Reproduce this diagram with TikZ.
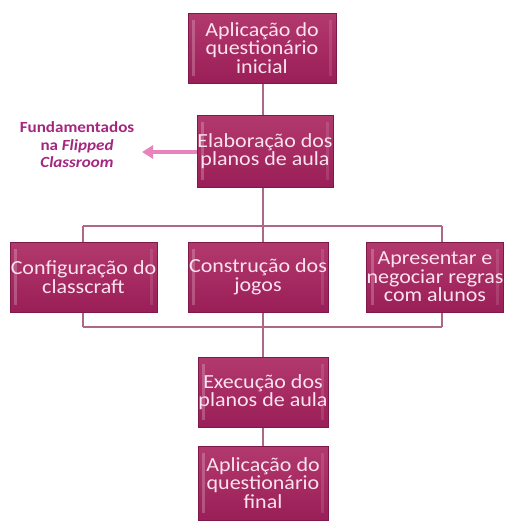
\documentclass[tikz,border=0pt]{standalone}
\usepackage{fontspec}
\setmainfont{Carlito}[FakeStretch=1.1]
\usetikzlibrary{arrows.meta,backgrounds,positioning,calc}
\definecolor{boxtop}{HTML}{B2396E}
\definecolor{boxbot}{HTML}{9A1E57}
\definecolor{boxline}{HTML}{7E1A49}
\definecolor{boxtext}{HTML}{FBE3EE}
\definecolor{linkcol}{HTML}{AE6886}
\definecolor{notecol}{HTML}{A3267F}
\definecolor{arrowcol}{HTML}{E884BC}
\tikzset{
    every picture/.style={line width=0.75pt},
    stage/.style={draw=boxline, line width=1pt, top color=boxtop, bottom color=boxbot,
        text=boxtext, align=center, inner sep=0pt,
        font=\fontsize{20}{18.5}\selectfont,
        path picture={
            \fill[white, opacity=0.22]
                ([xshift=4pt,yshift=-7pt]path picture bounding box.north west)
                rectangle ([xshift=7pt,yshift=7pt]path picture bounding box.south west);
            \fill[white, opacity=0.12]
                ([xshift=-7pt,yshift=-7pt]path picture bounding box.north east)
                rectangle ([xshift=-4pt,yshift=7pt]path picture bounding box.south east);
        }},
    link/.style={draw=linkcol, line width=2pt},
}

\begin{document}
\begin{tikzpicture}[x=1pt,y=-1pt]
    \useasboundingbox (0,0) rectangle (509,522);

    % main column
    \node[stage, minimum width=148pt, minimum height=70pt] (q1) at (262,48)
        {Aplicação do\\questionário\\inicial};
    \node[stage, minimum width=136pt, minimum height=72pt] (plan) at (265,151)
        {Elaboração dos\\planos de aula};

    % parallel tasks
    \node[stage, minimum width=147pt, minimum height=70pt] (cfg) at (83.5,277)
        {Configuração do\\classcraft};
    \node[stage, minimum width=140pt, minimum height=70pt] (jogos) at (258,277)
        {Construção dos\\jogos};
    \node[stage, minimum width=136pt, minimum height=70pt] (regras) at (435,277)
        {Apresentar e\\negociar regras\\com alunos};

    \node[stage, minimum width=130pt, minimum height=70pt] (exec) at (263,392)
        {Execução dos\\planos de aula};
    \node[stage, minimum width=130pt, minimum height=74pt] (q2) at (263,483)
        {Aplicação do\\questionário\\final};

    % note on the left
    \node[text=notecol, align=center, font=\fontsize{15.5}{17.5}\selectfont\bfseries] (note) at (77,145)
        {Fundamentados\\na \textit{Flipped}\\\textit{Classroom}};
    \coordinate (notetip) at (142,152);

    % bus lines
    \coordinate (busT) at (263,226);
    \coordinate (busTL) at (83,226);
    \coordinate (busTR) at (442,226);
    \coordinate (busB) at (263,327);
    \coordinate (busBL) at (83,327);
    \coordinate (busBR) at (442,327);

    \begin{scope}[on background layer]
        \draw[link] (q1.south -| busT) -- (plan.north -| busT);
        \draw[link] (plan.south -| busT) -- (busT);
        \draw[link] (busTL) -- (busTR);
        \draw[link] (busTL) -- (busTL |- cfg.north);
        \draw[link] (busT) -- (busT |- jogos.north);
        \draw[link] (busTR) -- (busTR |- regras.north);
        \draw[link] (busBL |- cfg.south) -- (busBL);
        \draw[link] (busB |- jogos.south) -- (busB);
        \draw[link] (busBR |- regras.south) -- (busBR);
        \draw[link] (busBL) -- (busBR);
        \draw[link] (busB) -- (exec.north -| busB);
        \draw[link] (exec.south -| busB) -- (q2.north -| busB);
    \end{scope}

    \draw[draw=arrowcol, line width=4pt, -{Triangle[length=11pt,width=13pt]}]
        (plan.west |- notetip) -- (notetip);
\end{tikzpicture}
\end{document}
